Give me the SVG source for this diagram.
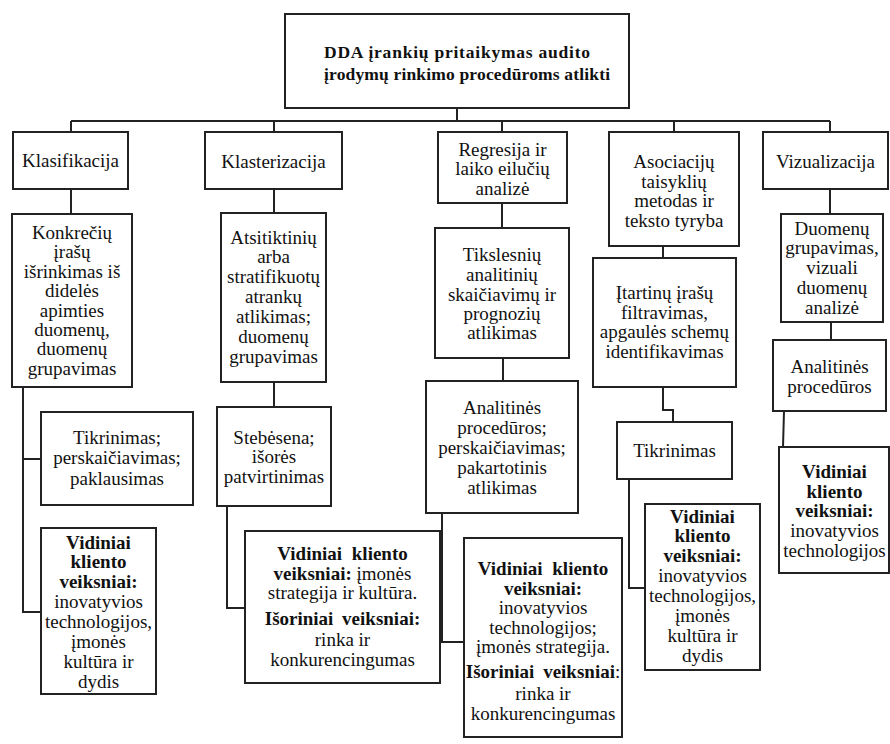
<svg xmlns="http://www.w3.org/2000/svg" width="890" height="744" viewBox="0 0 890 744" font-family="'Liberation Serif', serif">
<style>
  .box { fill: #ffffff; stroke: #222222; stroke-width: 2; }
  .conn { fill: none; stroke: #222222; stroke-width: 2; }
  .t { font-family: 'Liberation Serif', 'Times New Roman', serif; font-size: 19px; fill: #111111; text-anchor: middle; }
  .b { font-weight: bold; }
  .title { font-family: 'Liberation Serif', 'Times New Roman', serif; font-weight: bold; font-size: 17.5px; fill: #111111; text-anchor: start; }
</style>
<rect x="0" y="0" width="890" height="744" fill="#ffffff"/>

<g id="connectors">
  <polyline class="conn" points="457,108 457,121"/>
  <polyline class="conn" points="71,121 830,121"/>
  <polyline class="conn" points="71,121 71,132"/>
  <polyline class="conn" points="274,121 274,132"/>
  <polyline class="conn" points="502,121 502,132"/>
  <polyline class="conn" points="674,121 674,132"/>
  <polyline class="conn" points="830,121 830,132"/>
  <polyline class="conn" points="71,189 71,214"/>
  <polyline class="conn" points="23,387 23,612 41,612"/>
  <polyline class="conn" points="23,459 41,459"/>
  <polyline class="conn" points="274,189 274,213"/>
  <polyline class="conn" points="274,382 274,407"/>
  <polyline class="conn" points="227,506 227,608 245,608"/>
  <polyline class="conn" points="502,203 502,228"/>
  <polyline class="conn" points="503,358 503,381"/>
  <polyline class="conn" points="442,513 442,642 464,642"/>
  <polyline class="conn" points="663,246 663,258"/>
  <polyline class="conn" points="663,387 663,410 673,410 673,422"/>
  <polyline class="conn" points="629,479 629,588 645,588"/>
  <polyline class="conn" points="830,189 830,214"/>
  <polyline class="conn" points="831,322 831,340"/>
  <polyline class="conn" points="784,411 783,447"/>
</g>

<g id="root">
  <rect class="box" x="285" y="14" width="344" height="94"/>
  <text class="title" x="324" y="58" textLength="266" lengthAdjust="spacing">DDA įrankių  pritaikymas  audito</text>
  <text class="title" x="324" y="80" textLength="286" lengthAdjust="spacing">įrodymų  rinkimo  procedūroms  atlikti</text>
</g>

<g id="klasifikacija">
  <rect class="box" x="13" y="132" width="115" height="57"/>
  <text class="t" x="70.5" y="167">Klasifikacija</text>
</g>
<g id="klasterizacija">
  <rect class="box" x="205" y="132" width="137" height="57"/>
  <text class="t" x="273.5" y="167.5">Klasterizacija</text>
</g>
<g id="regresija">
  <rect class="box" x="438" y="132" width="129" height="71"/>
  <text class="t" x="502.5" y="156">Regresija ir</text>
  <text class="t" x="502.5" y="175">laiko eilučių</text>
  <text class="t" x="502.5" y="194.5">analizė</text>
</g>
<g id="asociaciju">
  <rect class="box" x="609" y="132" width="130" height="114"/>
  <text class="t" x="674" y="168">Asociacijų</text>
  <text class="t" x="674" y="187.5">taisyklių</text>
  <text class="t" x="674" y="207">metodas ir</text>
  <text class="t" x="674" y="226.5">teksto tyryba</text>
</g>
<g id="vizualizacija">
  <rect class="box" x="763" y="132" width="125" height="57"/>
  <text class="t" x="825.5" y="168">Vizualizacija</text>
</g>

<g id="konkreciu">
  <rect class="box" x="12" y="214" width="120" height="173"/>
  <text class="t" x="72" y="239">Konkrečių</text>
  <text class="t" x="72" y="258.4">įrašų</text>
  <text class="t" x="72" y="277.8">išrinkimas iš</text>
  <text class="t" x="72" y="297.2">didelės</text>
  <text class="t" x="72" y="316.6">apimties</text>
  <text class="t" x="72" y="336">duomenų,</text>
  <text class="t" x="72" y="355.4">duomenų</text>
  <text class="t" x="72" y="374.8">grupavimas</text>
</g>
<g id="tikrinimas1">
  <rect class="box" x="41" y="412" width="152" height="93"/>
  <text class="t" x="117" y="443.5">Tikrinimas;</text>
  <text class="t" x="117" y="464">perskaičiavimas;</text>
  <text class="t" x="117" y="484.5">paklausimas</text>
</g>
<g id="vidiniai1">
  <rect class="box" x="41" y="528" width="115" height="166"/>
  <text class="t b" x="98.5" y="548.5">Vidiniai</text>
  <text class="t b" x="98.5" y="568.4">kliento</text>
  <text class="t b" x="98.5" y="588.3">veiksniai:</text>
  <text class="t" x="98.5" y="608.2">inovatyvios</text>
  <text class="t" x="98.5" y="628.1">technologijos,</text>
  <text class="t" x="98.5" y="648">įmonės</text>
  <text class="t" x="98.5" y="667.9">kultūra ir</text>
  <text class="t" x="98.5" y="687.8">dydis</text>
</g>

<g id="atsitiktiniu">
  <rect class="box" x="221" y="213" width="105" height="169"/>
  <text class="t" x="273.5" y="243.5">Atsitiktinių</text>
  <text class="t" x="273.5" y="263.3">arba</text>
  <text class="t" x="273.5" y="283.2">stratifikuotų</text>
  <text class="t" x="273.5" y="303">atrankų</text>
  <text class="t" x="273.5" y="322.8">atlikimas;</text>
  <text class="t" x="273.5" y="342.7">duomenų</text>
  <text class="t" x="273.5" y="362.5">grupavimas</text>
</g>
<g id="stebesena">
  <rect class="box" x="217" y="407" width="114" height="99"/>
  <text class="t" x="274" y="443.5">Stebėsena;</text>
  <text class="t" x="274" y="463">išorės</text>
  <text class="t" x="274" y="482.5">patvirtinimas</text>
</g>
<g id="vidiniai2">
  <rect class="box" x="245" y="531" width="195" height="152"/>
  <text class="t b" style="word-spacing:5px" x="342.5" y="559.5">Vidiniai kliento</text>
  <text class="t" x="342.5" y="579.5"><tspan class="b">veiksniai:</tspan> įmonės</text>
  <text class="t" x="342.5" y="598.5">strategija ir kultūra.</text>
  <text class="t b" style="word-spacing:4px" x="342.5" y="625">Išoriniai veiksniai:</text>
  <text class="t" x="342.5" y="646">rinka ir</text>
  <text class="t" x="342.5" y="666">konkurencingumas</text>
</g>

<g id="tikslesniu">
  <rect class="box" x="435" y="228" width="134" height="130"/>
  <text class="t" x="502" y="260.5">Tikslesnių</text>
  <text class="t" x="502" y="280.5">analitinių</text>
  <text class="t" x="502" y="300.5">skaičiavimų ir</text>
  <text class="t" x="502" y="320">prognozių</text>
  <text class="t" x="502" y="339">atlikimas</text>
</g>
<g id="analitines1">
  <rect class="box" x="426" y="381" width="152" height="132"/>
  <text class="t" x="502" y="413.5">Analitinės</text>
  <text class="t" x="502" y="434">procedūros;</text>
  <text class="t" x="502" y="454">perskaičiavimas;</text>
  <text class="t" x="502" y="473.5">pakartotinis</text>
  <text class="t" x="502" y="493.5">atlikimas</text>
</g>
<g id="vidiniai3">
  <rect class="box" x="464" y="538" width="158" height="199"/>
  <text class="t b" style="word-spacing:5px" x="543" y="574.5">Vidiniai kliento</text>
  <text class="t b" x="543" y="594.5">veiksniai:</text>
  <text class="t" x="543" y="614">inovatyvios</text>
  <text class="t" x="543" y="633.5">technologijos;</text>
  <text class="t" x="543" y="653">įmonės strategija.</text>
  <text class="t" x="543" y="677.5"><tspan class="b" style="word-spacing:4px">Išoriniai veiksniai</tspan>:</text>
  <text class="t" x="543" y="700">rinka ir</text>
  <text class="t" x="543" y="719.5">konkurencingumas</text>
</g>

<g id="itartinu">
  <rect class="box" x="593" y="258" width="143" height="129"/>
  <text class="t" x="664.5" y="298.5">Įtartinų įrašų</text>
  <text class="t" x="664.5" y="318.5">filtravimas,</text>
  <text class="t" x="664.5" y="338">apgaulės schemų</text>
  <text class="t" x="664.5" y="357.5">identifikavimas</text>
</g>
<g id="tikrinimas2">
  <rect class="box" x="617" y="422" width="115" height="57"/>
  <text class="t" x="674.5" y="456.5">Tikrinimas</text>
</g>
<g id="vidiniai4">
  <rect class="box" x="645" y="504" width="115" height="166"/>
  <text class="t b" x="702.5" y="522.5">Vidiniai</text>
  <text class="t b" x="702.5" y="542.4">kliento</text>
  <text class="t b" x="702.5" y="562.3">veiksniai:</text>
  <text class="t" x="702.5" y="582.2">inovatyvios</text>
  <text class="t" x="702.5" y="602.1">technologijos,</text>
  <text class="t" x="702.5" y="622">įmonės</text>
  <text class="t" x="702.5" y="641.9">kultūra ir</text>
  <text class="t" x="702.5" y="661.8">dydis</text>
</g>

<g id="duomenu">
  <rect class="box" x="781" y="214" width="102" height="108"/>
  <text class="t" x="832" y="234.5">Duomenų</text>
  <text class="t" x="832" y="254.3">grupavimas,</text>
  <text class="t" x="832" y="274">vizuali</text>
  <text class="t" x="832" y="293.8">duomenų</text>
  <text class="t" x="832" y="313.5">analizė</text>
</g>
<g id="analitines2">
  <rect class="box" x="773" y="340" width="113" height="71"/>
  <text class="t" x="829.5" y="372.5">Analitinės</text>
  <text class="t" x="829.5" y="392.5">procedūros</text>
</g>
<g id="vidiniai5">
  <rect class="box" x="779" y="447" width="110" height="126"/>
  <text class="t b" x="834.5" y="477.5">Vidiniai</text>
  <text class="t b" x="834.5" y="497.5">kliento</text>
  <text class="t b" x="834.5" y="516.5">veiksniai:</text>
  <text class="t" x="834.5" y="537">inovatyvios</text>
  <text class="t" x="834.5" y="556.5">technologijos</text>
</g>
</svg>
